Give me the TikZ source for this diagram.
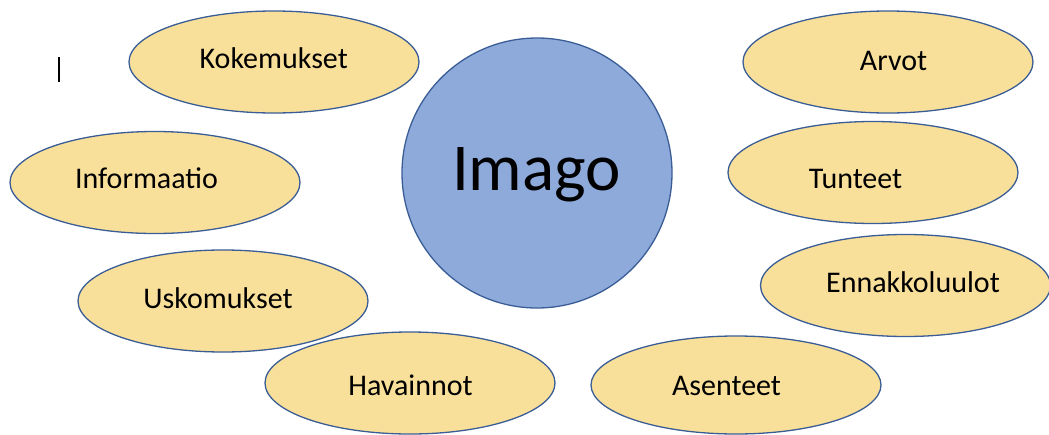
\documentclass[tikz,border=0pt]{standalone}
\usepackage{fontspec}
\setmainfont{Carlito}
\usetikzlibrary{shapes.geometric}
\definecolor{blobfill}{HTML}{F9E09A}
\definecolor{blobline}{HTML}{3A5D96}
\definecolor{corefill}{HTML}{8EAADB}
\tikzset{
  blob/.style={ellipse, draw=blobline, fill=blobfill, line width=1.3pt, inner sep=0pt,
    minimum width=290pt, minimum height=102pt},
  core/.style={circle, draw=blobline, fill=corefill, line width=1.3pt, inner sep=0pt,
    minimum size=270pt},
  lbl/.style={anchor=base, inner sep=0pt, font=\fontsize{30}{36}\selectfont},
  biglbl/.style={anchor=base, inner sep=0pt, font=\fontsize{67}{80}\selectfont},
}
\begin{document}
\begin{tikzpicture}[x=1pt,y=-1pt]
\useasboundingbox (0,0) rectangle (1049,434);
% cursor mark
\coordinate (c1) at (59,57);
\coordinate (c2) at (59,82);
\draw[line width=1.6pt] (c1) -- (c2);
% central circle
\node[core] (imago) at (537,173) {};
\node[biglbl] (imagot) at (536.5,190) {Imago};
% ellipses
\node[blob] (kok) at (274,62) {};
\node[lbl] (kokt) at (273.7,68) {Kokemukset};
\node[blob] (arv) at (888,62) {};
\node[lbl] (arvt) at (893.5,70) {Arvot};
\node[blob] (inf) at (155,182.5) {};
\node[lbl] (inft) at (146.5,188) {Informaatio};
\node[blob] (tun) at (873,172.5) {};
\node[lbl] (tunt) at (855.5,188) {Tunteet};
\node[blob] (usk) at (223,301) {};
\node[lbl] (uskt) at (218,308) {Uskomukset};
\node[blob] (enn) at (905.5,285.5) {};
\node[lbl] (ennt) at (913,292) {Ennakkoluulot};
\node[blob] (hav) at (410,383) {};
\node[lbl] (havt) at (410.5,395) {Havainnot};
\node[blob, minimum height=98pt] (ase) at (736,385) {};
\node[lbl] (aset) at (726.5,395) {Asenteet};
\end{tikzpicture}
\end{document}
